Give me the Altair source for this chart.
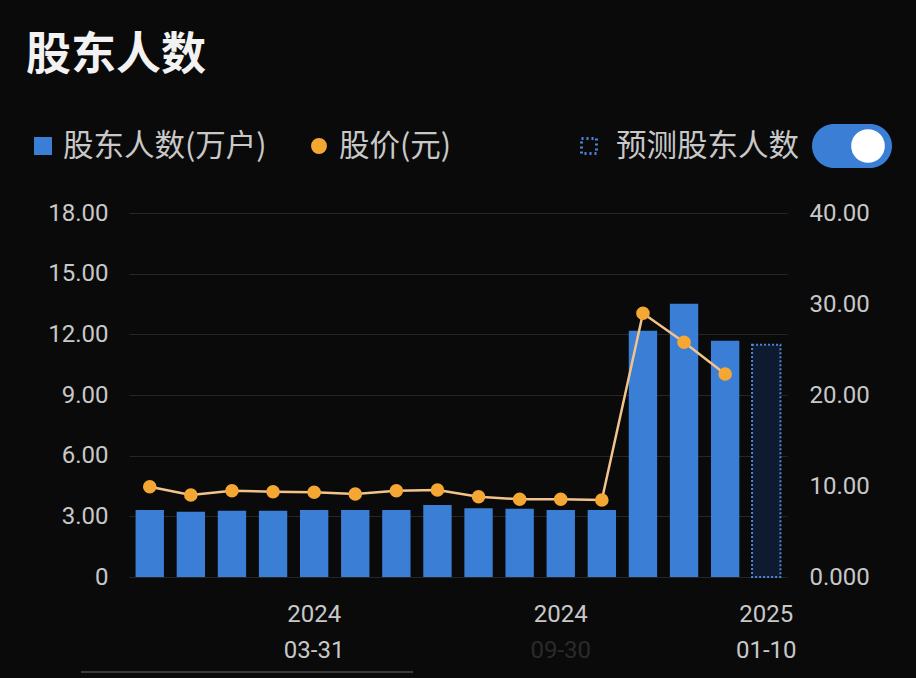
import altair as alt
import pandas as pd

# ---- data ----
periods = ["2023-11-30", "2023-12-31", "2024-01-31", "2024-02-29", "2024-03-31",
           "2024-04-30", "2024-05-31", "2024-06-30", "2024-07-31", "2024-08-31",
           "2024-09-30", "2024-10-31", "2024-11-30", "2024-12-20", "2024-12-31",
           "2025-01-10"]
holders = [3.31, 3.23, 3.27, 3.27, 3.31, 3.31, 3.31, 3.56, 3.40, 3.37,
           3.31, 3.31, 12.18, 13.51, 11.68]          # 万户
forecast_holders = [11.49]                            # 预测股东人数
price = [9.92, 9.01, 9.48, 9.37, 9.31, 9.12, 9.48, 9.56, 8.82, 8.54,
         8.54, 8.46, 28.98, 25.79, 22.31]             # 元
label_periods = ["2024-03-31", "2024-09-30", "2025-01-10"]
label_year = ["2024", "2024", "2025"]
label_md = ["03-31", "09-30", "01-10"]
obscured_period = "2024-09-30"   # second line blurred out in the reference
left_ticks = [0, 3, 6, 9, 12, 15, 18]
right_ticks = [0, 10, 20, 30, 40]

df_bar = pd.DataFrame({"period": periods[:len(holders)], "holders": holders})
df_fc = pd.DataFrame({"period": periods[len(holders):], "holders": forecast_holders})
df_price = pd.DataFrame({"period": periods[:len(price)], "price": price})
df_lab = pd.DataFrame({"period": label_periods, "year": label_year, "md": label_md})
one = alt.Data(values=[{"k": 0}])

BG = "#0a0a0a"
BLUE = "#3b7ed6"
ORANGE = "#f5a733"
TXT = "#c8c8c8"
CJK = "Noto Sans CJK SC"

x_enc = alt.X("period:N", sort=periods,
              scale=alt.Scale(domain=periods, paddingInner=0.31, paddingOuter=0.16),
              axis=None)

left_axis = alt.Axis(values=left_ticks, orient="left",
                     labelExpr="datum.value == 0 ? '0' : format(datum.value, '.2f')",
                     grid=True, gridColor="#262626", gridWidth=1,
                     domain=False, ticks=False, labelPadding=21,
                     labelFontSize=24, labelColor=TXT, labelFont="Roboto", title=None)
y_left = alt.Y("holders:Q", scale=alt.Scale(domain=[0, 18], nice=False), axis=left_axis)

bars = alt.Chart(df_bar).mark_bar(color=BLUE).encode(x=x_enc, y=y_left)
fc = alt.Chart(df_fc).mark_bar(fill="#0e1a30", stroke="#4a86dc", strokeWidth=2,
                               strokeDash=[2, 2]).encode(x=x_enc, y=y_left)

right_axis = alt.Axis(values=right_ticks, orient="right",
                      labelExpr="datum.value == 0 ? '0.000' : format(datum.value, '.2f')",
                      grid=False, domain=False, ticks=False, labelPadding=22,
                      labelFontSize=24, labelColor=TXT, labelFont="Roboto", title=None)
y_right = alt.Y("price:Q", scale=alt.Scale(domain=[0, 40], nice=False), axis=right_axis)

line = alt.Chart(df_price).mark_line(color="#f2c48c", strokeWidth=2.5).encode(x=x_enc, y=y_right)
pts = alt.Chart(df_price).mark_circle(color=ORANGE, size=185, opacity=1).encode(x=x_enc, y=y_right)

lab1 = alt.Chart(df_lab).mark_text(fontSize=24, color=TXT, font="Roboto", baseline="middle").encode(
    x=x_enc, y=alt.value(402), text="year:N")
lab2 = alt.Chart(df_lab).mark_text(fontSize=24, font="Roboto", baseline="middle").encode(
    x=x_enc, y=alt.value(438), text="md:N",
    color=alt.condition(alt.datum.period == obscured_period, alt.value("#2a2a2a"), alt.value(TXT)))

# ---- title & legend (decoration, placed in pixels relative to the plot origin) ----
title = alt.Chart(one).mark_text(text="股东人数", font=CJK, fontSize=45, fontWeight="bold",
                                 color="#f2f2f2", align="left", baseline="middle").encode(
    x=alt.value(-103), y=alt.value(-157))
leg_sq = alt.Chart(one).mark_square(color=BLUE, size=324, opacity=1).encode(
    x=alt.value(-86), y=alt.value(-67))
leg_t1 = alt.Chart(one).mark_text(text="股东人数(万户)", font=CJK, fontSize=30.5, color=TXT,
                                  align="left", baseline="middle").encode(
    x=alt.value(-66), y=alt.value(-66))
leg_ci = alt.Chart(one).mark_circle(color=ORANGE, size=254, opacity=1).encode(
    x=alt.value(190), y=alt.value(-67))
leg_t2 = alt.Chart(one).mark_text(text="股价(元)", font=CJK, fontSize=30.5, color=TXT,
                                  align="left", baseline="middle").encode(
    x=alt.value(210), y=alt.value(-66))
leg_fc = alt.Chart(one).mark_square(filled=False, stroke="#4a86dc", strokeWidth=3,
                                    strokeDash=[2, 3], size=225, opacity=1).encode(
    x=alt.value(460), y=alt.value(-67))
leg_t3 = alt.Chart(one).mark_text(text="预测股东人数", font=CJK, fontSize=30.5, color=TXT,
                                  align="left", baseline="middle").encode(
    x=alt.value(487), y=alt.value(-66))
toggle = alt.Chart(one).mark_rect(fill="#3b7ed6", cornerRadius=22).encode(
    x=alt.value(683), x2=alt.value(763), y=alt.value(-89), y2=alt.value(-45))
knob = alt.Chart(one).mark_circle(color="#ffffff", size=1134, opacity=1).encode(
    x=alt.value(739), y=alt.value(-67))
scroll = alt.Chart(one).mark_rule(color="#3a3a3a", strokeWidth=2).encode(
    x=alt.value(-48), x2=alt.value(284), y=alt.value(459))

chart = alt.layer(
    alt.layer(bars, fc),
    alt.layer(line, pts),
    lab1, lab2, title, leg_sq, leg_t1, leg_ci, leg_t2, leg_fc, leg_t3, toggle, knob, scroll,
).resolve_scale(y="independent").properties(
    width=658, height=364,
    autosize=alt.AutoSizeParams(type="none"),
    padding={"left": 129, "top": 213, "right": 129, "bottom": 101},
    background=BG,
).configure_view(stroke=None)

chart.save("out.html", embed_options={"renderer": "svg", "actions": False})
